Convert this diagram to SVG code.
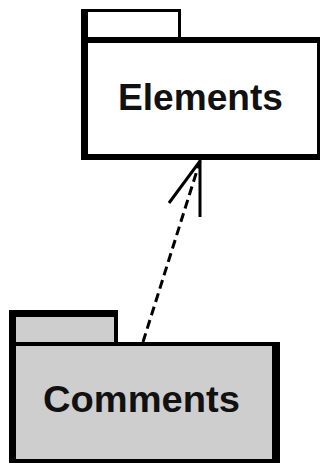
<svg xmlns="http://www.w3.org/2000/svg" width="321" height="464" viewBox="0 0 321 464">
<style>
.edge{fill:#000}
.lbl{font-family:"Liberation Sans",Arial,sans-serif;font-weight:bold;font-size:36px;fill:#111;text-anchor:middle}
.conn{stroke:#000;stroke-width:3;fill:none}
</style>
<rect width="321" height="464" fill="#fff"/>
<g id="Elements">
  <rect x="81" y="10" width="99" height="30" fill="#fff"/>
  <rect x="81" y="37" width="239" height="123" fill="#fff"/>
  <rect class="edge" x="81" y="9" width="100" height="3"/>
  <rect class="edge" x="178" y="9" width="3" height="30"/>
  <rect class="edge" x="81" y="9" width="7" height="151"/>
  <rect class="edge" x="81" y="37" width="239" height="6"/>
  <rect class="edge" x="81" y="154" width="239" height="6"/>
  <rect class="edge" x="317" y="37" width="3" height="123"/>
  <text class="lbl" x="200.5" y="110" textLength="165" lengthAdjust="spacingAndGlyphs">Elements</text>
</g>
<g id="Comments">
  <rect x="9" y="310" width="109" height="36" fill="#cecece"/>
  <rect x="9" y="342" width="271" height="121" fill="#cecece"/>
  <rect class="edge" x="9" y="310" width="109" height="7"/>
  <rect class="edge" x="114" y="310" width="4" height="34"/>
  <rect class="edge" x="9" y="310" width="7" height="153"/>
  <rect class="edge" x="9" y="342" width="271" height="4"/>
  <rect class="edge" x="272" y="342" width="8" height="121"/>
  <rect class="edge" x="9" y="459" width="271" height="4"/>
  <text class="lbl" x="141.5" y="412" textLength="197" lengthAdjust="spacingAndGlyphs">Comments</text>
</g>
<g id="connectors">
  <line class="conn" x1="143" y1="342" x2="200" y2="161" stroke-dasharray="9,5"/>
  <polyline class="conn" points="169,203 200,161 200,217"/>
</g>
</svg>
